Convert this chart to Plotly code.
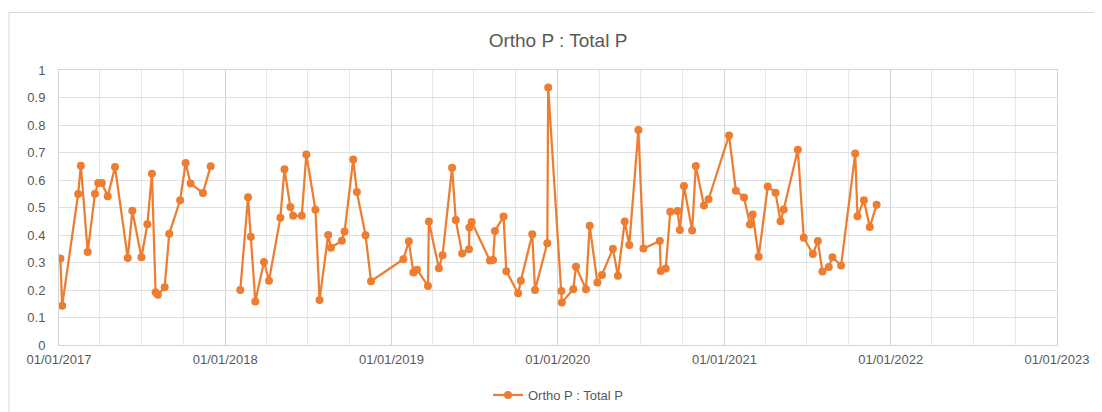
import plotly.graph_objects as go

dates = [
    "2017-01-04", "2017-01-08", "2017-02-12", "2017-02-18", "2017-03-05", "2017-03-21",
    "2017-03-28", "2017-04-05", "2017-04-18", "2017-05-04", "2017-06-01", "2017-06-11",
    "2017-07-01", "2017-07-14", "2017-07-24", "2017-08-01", "2017-08-06", "2017-08-21",
    "2017-08-31", "2017-09-24", "2017-10-06", "2017-10-17", "2017-11-13", "2017-11-30",
    "2018-01-01",
    "2018-02-03", "2018-02-20", "2018-02-26", "2018-03-08", "2018-03-27", "2018-04-07",
    "2018-05-02", "2018-05-11", "2018-05-24", "2018-05-30", "2018-06-18", "2018-06-28",
    "2018-07-18", "2018-07-27", "2018-08-15", "2018-08-21", "2018-09-14", "2018-09-20",
    "2018-10-09", "2018-10-17", "2018-11-05", "2018-11-17",
    "2019-01-27", "2019-02-08", "2019-02-18", "2019-02-26", "2019-03-22", "2019-03-24",
    "2019-04-15", "2019-04-23", "2019-05-14", "2019-05-22", "2019-06-05", "2019-06-20",
    "2019-06-21", "2019-06-26", "2019-08-05", "2019-08-12", "2019-08-16", "2019-09-04",
    "2019-09-10", "2019-10-06", "2019-10-12", "2019-11-06", "2019-11-12", "2019-12-09",
    "2019-12-11",
    "2020-01-09", "2020-01-10", "2020-02-04", "2020-02-10", "2020-03-03", "2020-03-11",
    "2020-03-28", "2020-04-07", "2020-05-01", "2020-05-12", "2020-05-27", "2020-06-06",
    "2020-06-26", "2020-07-07", "2020-08-12", "2020-08-14", "2020-08-25", "2020-09-04",
    "2020-09-20", "2020-09-25", "2020-10-04", "2020-10-22", "2020-10-30", "2020-11-17",
    "2020-11-27",
    "2021-01-11", "2021-01-26", "2021-02-13", "2021-02-26", "2021-03-04", "2021-03-17",
    "2021-04-06", "2021-04-23", "2021-05-04", "2021-05-11", "2021-06-11", "2021-06-24",
    "2021-07-14", "2021-07-25", "2021-08-04", "2021-08-18", "2021-08-26", "2021-09-14",
    "2021-10-15", "2021-10-20", "2021-11-03", "2021-11-16", "2021-12-01",
]

ratio = [
    0.315, 0.143, 0.549, 0.652, 0.338, 0.550,
    0.589, 0.589, 0.541, 0.647, 0.316, 0.488,
    0.319, 0.439, 0.623, 0.192, 0.183, 0.210,
    0.405, 0.526, 0.662, 0.587, 0.553, 0.650,
    None,
    0.200, 0.537, 0.394, 0.158, 0.302, 0.234,
    0.463, 0.639, 0.502, 0.470, 0.470, 0.693,
    0.492, 0.164, 0.400, 0.354, 0.379, 0.413,
    0.675, 0.556, 0.399, 0.232,
    0.312, 0.377, 0.264, 0.274, 0.215, 0.449,
    0.279, 0.326, 0.645, 0.455, 0.333, 0.348,
    0.427, 0.447, 0.307, 0.309, 0.415, 0.467,
    0.268, 0.188, 0.234, 0.403, 0.200, 0.370,
    0.936,
    0.196, 0.155, 0.203, 0.285, 0.203, 0.434,
    0.227, 0.255, 0.350, 0.252, 0.449, 0.364,
    0.782, 0.351, 0.378, 0.269, 0.278, 0.485,
    0.487, 0.418, 0.578, 0.416, 0.651, 0.507,
    0.530,
    0.762, 0.561, 0.536, 0.438, 0.475, 0.321,
    0.576, 0.554, 0.450, 0.493, 0.710, 0.390,
    0.331, 0.378, 0.267, 0.284, 0.319, 0.289,
    0.696, 0.468, 0.526, 0.429, 0.510,
]

series_name = "Ortho P : Total P"
title_text = "Ortho P : Total P"
x_start, x_end = "2017-01-01", "2023-01-01"

orange = "#ED7D31"
text_col = "#595959"
font_family = "Liberation Sans, Arial, sans-serif"

W, H = 1094, 404  # page body has an 8px margin
ML, MR, MT, MB = 51, 45, 62, 67
PW, PH = W - ML - MR, H - MT - MB

fig = go.Figure()
fig.add_trace(go.Scatter(
    x=dates, y=ratio, name=series_name, mode="lines+markers",
    connectgaps=False,
    line=dict(color=orange, width=2.25),
    marker=dict(color=orange, size=8, symbol="circle"),
))

fig.update_layout(
    width=W, height=H,
    margin=dict(l=ML, r=MR, t=MT, b=MB, autoexpand=False),
    paper_bgcolor="white", plot_bgcolor="white",
    font=dict(family=font_family, color=text_col, size=13),
    title=dict(text=title_text, x=0.5, xref="paper", xanchor="center",
               y=1 - 32 / H, yref="container", yanchor="middle",
               font=dict(size=19, color=text_col, family=font_family)),
    showlegend=True,
    legend=dict(orientation="h", x=0.5, xanchor="center",
                y=1 - 387 / H, yref="container", yanchor="middle",
                font=dict(size=13, color=text_col), itemwidth=30),
    xaxis=dict(
        type="date", range=[x_start, x_end],
        tick0=x_start, dtick="M12", tickformat="%d/%m/%Y",
        showgrid=True, gridcolor="#d4d4d4", gridwidth=1,
        minor=dict(dtick="M3", showgrid=True, gridcolor="#e8e8e8", gridwidth=1),
        showline=True, linecolor="#d4d4d4", linewidth=1, mirror=True,
        ticks="", ticklabelstandoff=2,
        tickfont=dict(size=13, color=text_col),
        zeroline=False, automargin=False,
    ),
    yaxis=dict(
        range=[0, 1], dtick=0.1, tick0=0,
        showgrid=True, gridcolor="#e0e0e0", gridwidth=1,
        showline=True, linecolor="#d4d4d4", linewidth=1, mirror=True,
        ticks="", ticklabelstandoff=10,
        tickfont=dict(size=13, color=text_col),
        zeroline=False, automargin=False,
    ),
    shapes=[dict(type="rect", xref="paper", yref="paper",
                 x0=(1 - ML) / PW, x1=1.06, y0=-0.30, y1=(PH + MT - 4.5) / PH,
                 line=dict(color="#d9d9d9", width=1), fillcolor="rgba(0,0,0,0)",
                 layer="below")],
)

fig.write_html("out.html")
